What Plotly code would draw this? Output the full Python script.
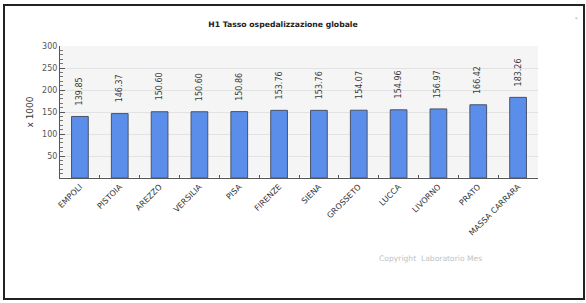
import plotly.graph_objects as go

categories = ["EMPOLI", "PISTOIA", "AREZZO", "VERSILIA", "PISA", "FIRENZE", "SIENA",
              "GROSSETO", "LUCCA", "LIVORNO", "PRATO", "MASSA CARRARA"]
values = [139.85, 146.37, 150.60, 150.60, 150.86, 153.76, 153.76, 154.07, 154.96, 156.97, 166.42, 183.26]
y_ticks = [50, 100, 150, 200, 250, 300]

FONT = "DejaVu Sans"

fig = go.Figure()
fig.add_trace(go.Bar(
    x=categories, y=values, width=0.42,
    marker=dict(color="#5b8eeb", line=dict(color="#4a5266", width=1)),
    hoverinfo="x+y",
))

for c, v in zip(categories, values):
    fig.add_annotation(x=c, y=v, text=f"{v:.2f}", textangle=-90, showarrow=False,
                       yanchor="bottom", yshift=9,
                       font=dict(family=FONT, size=8, color="#3a3a3a"))

fig.add_annotation(xref="paper", yref="paper", x=(377 - 60) / 478, y=-(258 - 178) / 132,
                   xanchor="left", yanchor="middle", showarrow=False,
                   text="Copyright  Laboratorio Mes",
                   font=dict(family=FONT, size=7.6, color="#c2c2c2"))

fig.add_annotation(xref="paper", yref="paper", x=1 + (576 - 538) / 478, y=1 + (46 - 18) / 132,
                   xanchor="center", yanchor="middle", showarrow=False, text="-",
                   font=dict(family=FONT, size=7, color="#444"))

fig.add_shape(type="rect", xref="paper", yref="paper",
              x0=-(60 - 4) / 478, x1=1 + (584 - 538) / 478,
              y0=-(299 - 178) / 132, y1=1 + (46 - 5) / 132,
              line=dict(color="#222", width=2), layer="below")

fig.update_layout(
    width=586, height=303,
    margin=dict(l=60, r=48, t=46, b=125),
    paper_bgcolor="white", plot_bgcolor="#f5f5f5",
    showlegend=False,
    title=dict(text="<b>H1 Tasso ospedalizzazione globale</b>", x=283 / 586, xanchor="center",
               y=1 - 24 / 303, yanchor="middle",
               font=dict(family=FONT, size=7.7, color="#222")),
    font=dict(family=FONT),
    bargap=0.5,
)
fig.update_xaxes(
    tickangle=-45, tickfont=dict(family=FONT, size=8, color="#333"),
    showline=True, linecolor="#555", linewidth=1,
    ticks="inside", tickson="boundaries", ticklen=3, tickcolor="#555",
    showgrid=False,
)
fig.update_yaxes(
    range=[0, 300], tickvals=y_ticks, ticks="inside", ticklen=5, tickcolor="#555",
    showline=True, linecolor="#555", linewidth=1,
    gridcolor="#e2e2e2", gridwidth=1,
    tickfont=dict(family=FONT, size=8, color="#555"),
    minor=dict(dtick=10, ticks="inside", ticklen=3, tickcolor="#777", showgrid=False),
    title=dict(text="x 1000", font=dict(family=FONT, size=9, color="#333"), standoff=6),
)

fig.write_html("out.html", config={"displayModeBar": False},
               post_script="document.body.style.margin='0';document.body.style.overflow='hidden';")
